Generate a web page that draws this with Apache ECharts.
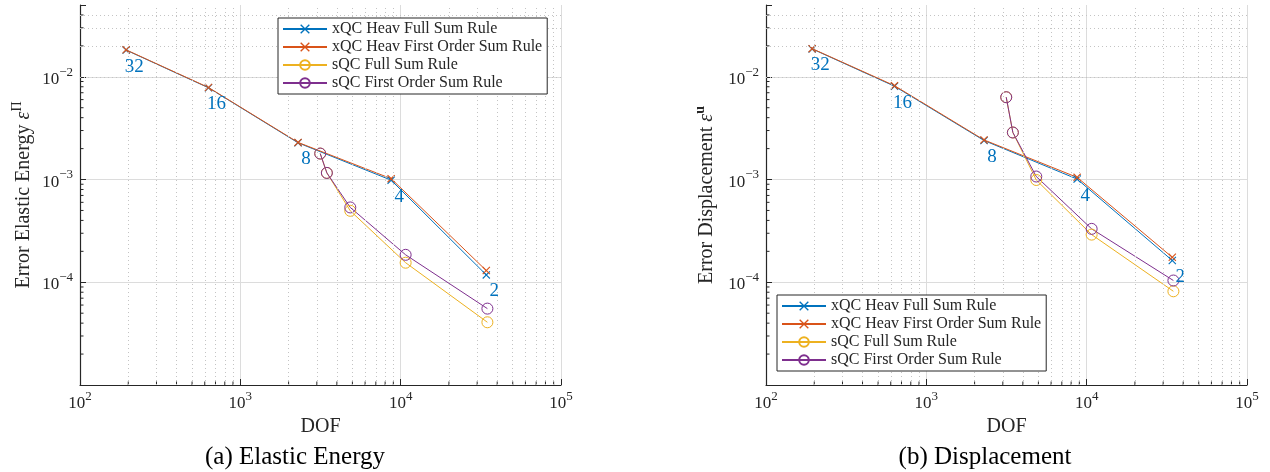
<!DOCTYPE html>
<html>
<head>
<meta charset="utf-8">
<script src="https://cdn.jsdelivr.net/npm/echarts@6/dist/echarts.min.js"></script>
<style>html,body{margin:0;padding:0;background:#fff}#c{width:1270px;height:472px}</style>
</head>
<body>
<div id="c"></div>
<script>
// ---------- data ----------
const seriesNames = ['xQC Heav Full Sum Rule', 'xQC Heav First Order Sum Rule', 'sQC Full Sum Rule', 'sQC First Order Sum Rule'];
const levels = [32, 16, 8, 4, 2];
const xqcDof = [194, 633, 2290, 8720, 34200];
const sqcDof = [3150, 3465, 4850, 10740, 34750];
// (a) Elastic energy
const energyXqcFull  = [0.0182, 0.00782, 0.00228, 0.000986, 0.000118];
const energyXqcFirst = [0.0183, 0.00787, 0.00230, 0.00102, 0.000130];
const energySqcFull  = [0.00179, 0.00116, 0.000496, 0.000155, 0.0000408];
const energySqcFirst = [0.00179, 0.00116, 0.000535, 0.000185, 0.0000554];
// (b) Displacement
const dispXqcFull  = [0.0187, 0.0081, 0.00240, 0.00101, 0.000163];
const dispXqcFirst = [0.0188, 0.0082, 0.00243, 0.00105, 0.000175];
const dispSqcFull  = [0.00633, 0.00287, 0.00099, 0.000291, 0.0000817];
const dispSqcFirst = [0.00633, 0.00287, 0.00107, 0.000331, 0.000104];
const xTickLabels = {'2': ['10', '2'], '3': ['10', '3'], '4': ['10', '4'], '5': ['10', '5']};
const yTickLabels = {'-2': ['10', '−2'], '-3': ['10', '−3'], '-4': ['10', '−4']};
const captions = ['(a) Elastic Energy', '(b) Displacement'];

// ---------- style ----------
const FONT = 'Liberation Serif, DejaVu Serif, serif';
const COLORS = ['#0072BD', '#D95319', '#EDB120', '#7E2F8E'];
const AX = '#262626';
const XMIN = 100, XMAX = 100000, YMIN = 1e-5, YMAX = 0.05;
const GRIDS = [{left: 80, top: 5, width: 481, height: 380}, {left: 766, top: 5, width: 481, height: 380}];

const xMinor = [], yMinor = [];
for (let k = 2; k <= 4; k++) for (let m = 2; m <= 9; m++) xMinor.push(m * Math.pow(10, k));
for (let k = -5; k <= -2; k++) for (let m = 2; m <= 9; m++) { const v = m * Math.pow(10, k); if (v < YMAX * 0.999) yMinor.push(v); }

// filled thin "x" marker
const xSymbol = 'path://M0,1L1,0L5,4L9,0L10,1L6,5L10,9L9,10L5,6L1,10L0,9L4,5Z';
const zip = (xs, ys) => xs.map((x, i) => [x, ys[i]]);

const rich = {
  b: {fontFamily: FONT, fontSize: 17, color: AX, lineHeight: 22, verticalAlign: 'bottom'},
  s: {fontFamily: FONT, fontSize: 13, color: AX, lineHeight: 13, verticalAlign: 'top'}
};
const powLabel = (table, v) => {
  const l = Math.log10(v), e = Math.round(l);
  if (Math.abs(l - e) > 1e-6) return '';
  const t = table[String(e)];
  return t ? '{b|' + t[0] + '}{s|' + t[1] + '}' : '';
};

function xAxisFor(i) {
  return {
    type: 'log', gridIndex: i, min: XMIN, max: XMAX, logBase: 10,
    name: 'DOF', nameLocation: 'middle', nameGap: 27,
    nameTextStyle: {fontFamily: FONT, fontSize: 20, color: AX},
    axisLine: {show: true, lineStyle: {color: AX, width: 1.2}},
    axisTick: {show: true, inside: true, length: 6, lineStyle: {color: AX}},
    axisLabel: {margin: 5, rich: rich, formatter: v => powLabel(xTickLabels, v)},
    splitLine: {show: true, lineStyle: {color: '#dcdcdc', width: 1}},
    minorTick: {show: false}, minorSplitLine: {show: false}
  };
}
function yAxisFor(i, nameStr, nameGap) {
  return {
    type: 'log', gridIndex: i, min: YMIN, max: YMAX, logBase: 10,
    name: nameStr, nameLocation: 'middle', nameGap: nameGap, nameRotate: 90,
    nameTextStyle: {fontFamily: FONT, fontSize: 20, color: AX, rich: {
      t: {fontFamily: FONT, fontSize: 20, color: AX, lineHeight: 24, verticalAlign: 'bottom'},
      e: {fontFamily: FONT, fontSize: 20, fontStyle: 'italic', color: AX, lineHeight: 24, verticalAlign: 'bottom'},
      s: {fontFamily: FONT, fontSize: 14, color: AX, lineHeight: 14, verticalAlign: 'top'},
      sb: {fontFamily: FONT, fontSize: 14, fontWeight: 'bold', color: AX, lineHeight: 14, verticalAlign: 'top'}
    }},
    axisLine: {show: true, lineStyle: {color: AX, width: 1.2}},
    axisTick: {show: true, inside: true, length: 6, lineStyle: {color: AX}},
    axisLabel: {margin: 7, rich: rich, formatter: v => powLabel(yTickLabels, v)},
    splitLine: {show: true, showMaxLine: false, lineStyle: {color: '#dcdcdc', width: 1}},
    minorTick: {show: false}, minorSplitLine: {show: false}
  };
}

function minorGridMarkLine() {
  return {
    silent: true, symbol: 'none', label: {show: false}, animation: false,
    lineStyle: {color: '#c4c4c4', type: [1, 3], width: 1},
    data: xMinor.map(v => ({xAxis: v})).concat(yMinor.map(v => ({yAxis: v})))
  };
}

function minorTickSeries(i) {
  return [{
    type: 'custom', xAxisIndex: i, yAxisIndex: i, silent: true, z: 2,
    data: xMinor.map(v => [v, YMIN]),
    renderItem: (p, api) => { const c = api.coord([api.value(0), YMIN]); return {type: 'line', shape: {x1: c[0], y1: c[1], x2: c[0], y2: c[1] - 3.5}, style: {stroke: AX, lineWidth: 1}}; }
  }, {
    type: 'custom', xAxisIndex: i, yAxisIndex: i, silent: true, z: 2,
    data: yMinor.map(v => [XMIN, v]),
    renderItem: (p, api) => { const c = api.coord([XMIN, api.value(1)]); return {type: 'line', shape: {x1: c[0], y1: c[1], x2: c[0] + 3.5, y2: c[1]}, style: {stroke: AX, lineWidth: 1}}; }
  }];
}

function plotSeries(i, xFull, xFirst, sFull, sFirst) {
  const xqcStyle = (c) => ({
    type: 'line', xAxisIndex: i, yAxisIndex: i, symbol: xSymbol, symbolSize: 8,
    lineStyle: {color: c, width: 1}, itemStyle: {color: c, borderWidth: 0}
  });
  const sqcStyle = (c) => ({
    type: 'line', xAxisIndex: i, yAxisIndex: i, symbol: 'circle', symbolSize: 11,
    lineStyle: {color: c, width: 1}, itemStyle: {color: 'rgba(0,0,0,0)', borderColor: c, borderWidth: 1}
  });
  const s0 = Object.assign(xqcStyle(COLORS[0]), {
    name: seriesNames[0], data: zip(xqcDof, xFull), markLine: minorGridMarkLine(), z: 2,
    label: {show: true, position: 'bottom', offset: [8, 0], distance: 3, color: COLORS[0], fontFamily: FONT, fontSize: 19,
      formatter: p => String(levels[p.dataIndex])}
  });
  const s1 = Object.assign(xqcStyle(COLORS[1]), {name: seriesNames[1], data: zip(xqcDof, xFirst), z: 2});
  const s2 = Object.assign(sqcStyle(COLORS[2]), {name: seriesNames[2], data: zip(sqcDof, sFull), z: 2});
  const s3 = Object.assign(sqcStyle(COLORS[3]), {name: seriesNames[3], data: zip(sqcDof, sFirst), z: 2});
  return [s0, s1, s2, s3];
}

function legendFor(left, top) {
  return {
    left: left, top: top, orient: 'vertical', selectedMode: false, z: 20,
    data: seriesNames, backgroundColor: '#fff', borderColor: AX, borderWidth: 1,
    padding: [3, 5, 3, 4], itemGap: 2, itemWidth: 44, itemHeight: 12,
    textStyle: {fontFamily: FONT, fontSize: 16, lineHeight: 16, color: AX}
  };
}

const chart = echarts.init(document.getElementById('c'), null, {renderer: 'canvas'});
chart.setOption({
  animation: false,
  backgroundColor: '#fff',
  title: [
    {text: captions[0], left: 290, top: 440, textAlign: 'center', textStyle: {fontFamily: FONT, fontSize: 25, fontWeight: 'normal', color: '#000'}},
    {text: captions[1], left: 980, top: 440, textAlign: 'center', textStyle: {fontFamily: FONT, fontSize: 25, fontWeight: 'normal', color: '#000'}}
  ],
  legend: [legendFor(278, 18), legendFor(777, 295)],
  grid: GRIDS,
  xAxis: [xAxisFor(0), xAxisFor(1)],
  yAxis: [
    yAxisFor(0, '{t|Error Elastic Energy }{e|ε}{s|Π}', 46),
    yAxisFor(1, '{t|Error Displacement }{e|ε}{sb|u}', 49)
  ],
  series: [].concat(
    plotSeries(0, energyXqcFull, energyXqcFirst, energySqcFull, energySqcFirst),
    plotSeries(1, dispXqcFull, dispXqcFirst, dispSqcFull, dispSqcFirst),
    minorTickSeries(0), minorTickSeries(1)
  )
});
</script>
</body>
</html>
